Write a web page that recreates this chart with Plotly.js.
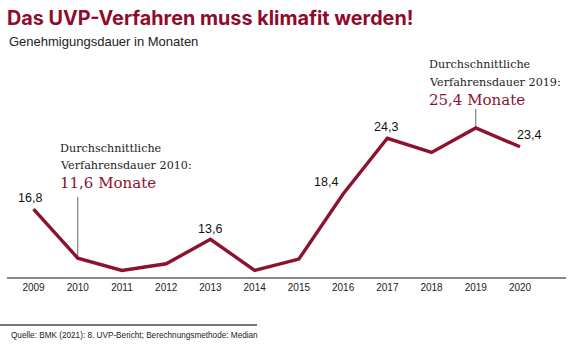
<!DOCTYPE html>
<html>
<head>
<meta charset="utf-8">
<script src="https://cdn.plot.ly/plotly-3.0.1.min.js"></script>
<style>html,body{margin:0;padding:0;background:#fff;}#chart{width:580px;height:350px;}</style>
</head>
<body>
<div id="chart"></div>
<script>
// ---- data ----
const years = [2009, 2010, 2011, 2012, 2013, 2014, 2015, 2016, 2017, 2018, 2019, 2020];
const durations = [16.8, 11.6, 10.3, 11.0, 13.6, 10.3, 11.5, 18.4, 24.3, 22.8, 25.4, 23.4];
const labeledYears = [2009, 2013, 2016, 2017, 2020];
const labeledText = ["16,8", "13,6", "18,4", "24,3", "23,4"];
const tickYears = years;
const tickLabels = years.map(String);
const calloutYears = [2010, 2019];
const calloutValues = [11.6, 25.4];
const calloutLine1 = ["Durchschnittliche", "Durchschnittliche"];
const calloutLine2 = ["Verfahrensdauer 2010:", "Verfahrensdauer 2019:"];
const calloutMain = ["11,6 Monate", "25,4 Monate"];

// ---- style ----
const W = 580, H = 350;
const M = {l: 7, r: 14, t: 60, b: 73};
const PW = W - M.l - M.r, PH = H - M.t - M.b;
const px = x => (x - M.l) / PW;            // pixel -> paper x
const py = y => (H - M.b - y) / PH;        // pixel -> paper y
const RED = '#8c1230';
const TITLE_RED = '#8f0b2c';
const SERIF = '"DejaVu Serif", Georgia, serif';
const SANS = 'Arial, "Liberation Sans", sans-serif';

// label offsets (pixels) per labeled point
const labelShift = {2009: [-4, 11], 2013: [0, 10], 2016: [-17, 12], 2017: [-1, 11], 2020: [9, 12]};

const annotations = [];
labeledYears.forEach((yr, i) => {
  const v = durations[years.indexOf(yr)];
  annotations.push({
    x: yr, y: v, xref: 'x', yref: 'y', text: labeledText[i], showarrow: false,
    xanchor: 'center', yanchor: 'middle',
    xshift: labelShift[yr][0], yshift: labelShift[yr][1],
    font: {family: SANS, size: 12.5, color: '#111'}
  });
});

// callout texts (pixel placement)
const calloutPos = [{x: 58, y1: 148, y2: 165, y3: 183}, {x: 427, y1: 64, y2: 82, y3: 100}];
const calloutLineTop = [197, 109];
calloutYears.forEach((yr, i) => {
  const p = calloutPos[i];
  [[calloutLine1[i], p.y1, 11.2, '#222'], [calloutLine2[i], p.y2, 11.2, '#222'], [calloutMain[i], p.y3, 15, RED]]
    .forEach(([t, y, s, c]) => annotations.push({
      x: px(p.x), y: py(y), xref: 'paper', yref: 'paper', text: t, showarrow: false,
      xanchor: 'left', yanchor: 'middle', font: {family: SERIF, size: s, color: c}
    }));
});

// subtitle & source
annotations.push({x: px(7), y: py(41), xref: 'paper', yref: 'paper', text: 'Genehmigungsdauer in Monaten',
  showarrow: false, xanchor: 'left', yanchor: 'middle', font: {family: SANS, size: 13, color: '#222'}});
annotations.push({x: px(9), y: py(335), xref: 'paper', yref: 'paper',
  text: 'Quelle: BMK (2021): 8. UVP-Bericht; Berechnungsmethode: Median',
  showarrow: false, xanchor: 'left', yanchor: 'middle', font: {family: SANS, size: 8.2, color: '#222'}});

// vertical connectors from point up to callout text, anchored at the data value
const shapes = [];
calloutYears.forEach((yr, i) => {
  shapes.push({type: 'line', xref: 'x', yref: 'y', ysizemode: 'pixel', yanchor: calloutValues[i],
    x0: yr, x1: yr, y0: 0, y1: 50,
    line: {color: '#666', width: 1}, layer: 'below', _top: calloutLineTop[i]});
});
// source rule
shapes.push({type: 'line', xref: 'paper', yref: 'paper', x0: px(0), x1: px(257), y0: py(325), y1: py(325),
  line: {color: '#777', width: 2}});

const trace = {
  x: years, y: durations, type: 'scatter', mode: 'lines',
  line: {color: RED, width: 3.4}, hoverinfo: 'skip'
};

const layout = {
  width: W, height: H, margin: M,
  paper_bgcolor: '#fff', plot_bgcolor: '#fff', showlegend: false,
  title: {text: '<b>Das UVP-Verfahren muss klimafit werden!</b>', x: 7 / W, xref: 'container', xanchor: 'left',
    y: 1 - 18 / H, yref: 'container', yanchor: 'middle',
    font: {family: 'Inter, Roboto, Arial, sans-serif', size: 19.8, color: TITLE_RED}},
  xaxis: {range: [2008.4, 2021.04], tickvals: tickYears, ticktext: tickLabels, showgrid: false, zeroline: false,
    showline: true, linecolor: '#888', linewidth: 2, ticks: '', tickfont: {family: SANS, size: 10, color: '#222'},
    fixedrange: true},
  yaxis: {range: [9.6, 32.6], showgrid: false, zeroline: false, showline: false, showticklabels: false, ticks: '',
    fixedrange: true},
  annotations: annotations, shapes: []
};

Plotly.newPlot('chart', [trace], layout, {displayModeBar: false, staticPlot: true}).then(gd => {
  const ya = gd._fullLayout.yaxis;
  const finalShapes = shapes.map(s => {
    if (s._top !== undefined) {
      const yPix = M.t + ya.l2p(s.yanchor);
      const c = Object.assign({}, s); delete c._top;
      c.y1 = yPix - s._top;
      return c;
    }
    return s;
  });
  Plotly.relayout(gd, {shapes: finalShapes});
});
</script>
</body>
</html>
